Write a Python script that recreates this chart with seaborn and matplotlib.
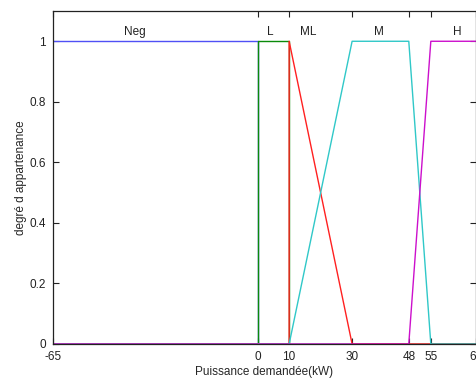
import numpy as np
import pandas as pd
import matplotlib
matplotlib.use("Agg")
import matplotlib.pyplot as plt
import seaborn as sns

# membership functions (x in kW, y = degree of membership)
neg_x = [-65, 0, 0, 65]
neg_y = [1, 1, 0, 0]
l_x = [-65, 0, 0, 10, 10, 65]
l_y = [0, 0, 1, 1, 0, 0]
ml_x = [-65, 10, 10, 30, 65]
ml_y = [0, 0, 1, 0, 0]
m_x = [-65, 10, 30, 48, 55, 65]
m_y = [0, 0, 1, 1, 0, 0]
h_x = [-65, 48, 55, 65]
h_y = [0, 0, 1, 1]

set_names = ["Neg", "L", "ML", "M", "H"]
label_x = [-39, 4, 16, 38.6, 60.8]
xticks = [-65, 0, 10, 30, 48, 55, 65]
yticks = [0, 0.2, 0.4, 0.6, 0.8, 1]

colors = ["#5050f5", "#0a8a0a", "#ff2020", "#30c8c8", "#cc10cc"]

sns.set_style("ticks")
plt.rcParams["font.family"] = ["Liberation Sans", "DejaVu Sans"]

fig = plt.figure(figsize=(4.77, 3.79), dpi=100)
ax = fig.add_axes([53/477, 35/379, (476-53)/477, (344-11)/379])

# axis stretch of the original picture between 55 and 65
src = [-65, 55, 65]
dst = [-65, 55, 69.35]
fwd = lambda v: np.interp(v, src, dst)
inv = lambda v: np.interp(v, dst, src)
ax.set_xscale("function", functions=(fwd, inv))

series = [(neg_x, neg_y), (l_x, l_y), (ml_x, ml_y), (m_x, m_y), (h_x, h_y)]
for (xs, ys), c, name in zip(series, colors, set_names):
    df = pd.DataFrame({"x": xs, "y": ys})
    sns.lineplot(data=df, x="x", y="y", sort=False, estimator=None,
                 color=c, lw=1.0, ax=ax)

for name, lx in zip(set_names, label_x):
    ax.text(lx, 1.03, name, ha="center", va="center", fontsize=8.5, color="#222222")

ax.set_xlim(-65, 65)
ax.set_ylim(0, 1.1)
ax.set_xticks(xticks)
ax.set_xticklabels([str(t) for t in xticks])
ax.set_yticks(yticks)
ax.set_yticklabels(["0", "0.2", "0.4", "0.6", "0.8", "1"])
ax.tick_params(direction="in", length=4, width=0.8, top=True, right=True,
               labelsize=8.5, colors="#222222")
ax.tick_params(axis="x", pad=5)
ax.tick_params(axis="y", pad=5)
for s in ax.spines.values():
    s.set_visible(True)
    s.set_linewidth(0.9)
    s.set_color("#222222")
ax.set_xlabel("Puissance demandée(kW)", fontsize=8.5, labelpad=2)
ax.set_ylabel("degré d appartenance", fontsize=8.5, labelpad=2)

fig.savefig("out.png", dpi=100)
